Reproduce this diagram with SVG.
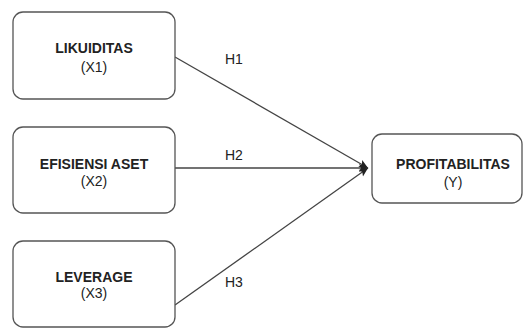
<svg xmlns="http://www.w3.org/2000/svg" width="523" height="329" viewBox="0 0 523 329">
<style>
.box{fill:#fff;stroke:#555;stroke-width:1.3}
.t{font-family:"Liberation Sans",Arial,sans-serif;font-size:14px;fill:#222;text-anchor:middle}
.b{font-weight:bold}
.e{stroke:#444;stroke-width:1.3;fill:none}
.h{font-family:"Liberation Sans",Arial,sans-serif;font-size:14px;fill:#222}
</style>
<defs>
<marker id="arr" markerWidth="10" markerHeight="10" refX="9" refY="5" orient="auto" markerUnits="userSpaceOnUse">
<path d="M0,1 L9,5 L0,9 L2,5 Z" fill="#222"/>
</marker>
</defs>
<rect width="523" height="329" fill="#fff"/>
<g id="edges">
<line class="e" x1="175" y1="57" x2="368" y2="168" marker-end="url(#arr)"/>
<line class="e" x1="175" y1="168" x2="368" y2="168" marker-end="url(#arr)"/>
<line class="e" x1="175" y1="305" x2="368" y2="168" marker-end="url(#arr)"/>
<text class="h" x="225" y="64">H1</text>
<text class="h" x="225" y="160">H2</text>
<text class="h" x="225" y="287">H3</text>
</g>
<g id="x1">
<rect class="box" x="13" y="12" width="162" height="87" rx="10"/>
<text class="t b" x="94" y="53">LIKUIDITAS</text>
<text class="t" x="94" y="72">(X1)</text>
</g>
<g id="x2">
<rect class="box" x="13" y="127" width="162" height="86" rx="10"/>
<text class="t b" x="94" y="169">EFISIENSI ASET</text>
<text class="t" x="94" y="186">(X2)</text>
</g>
<g id="x3">
<rect class="box" x="13" y="241" width="162" height="86" rx="10"/>
<text class="t b" x="94" y="282">LEVERAGE</text>
<text class="t" x="94" y="298">(X3)</text>
</g>
<g id="y">
<rect class="box" x="372" y="134" width="150" height="69" rx="10"/>
<text class="t b" x="453" y="169">PROFITABILITAS</text>
<text class="t" x="453" y="187">(Y)</text>
</g>
</svg>
